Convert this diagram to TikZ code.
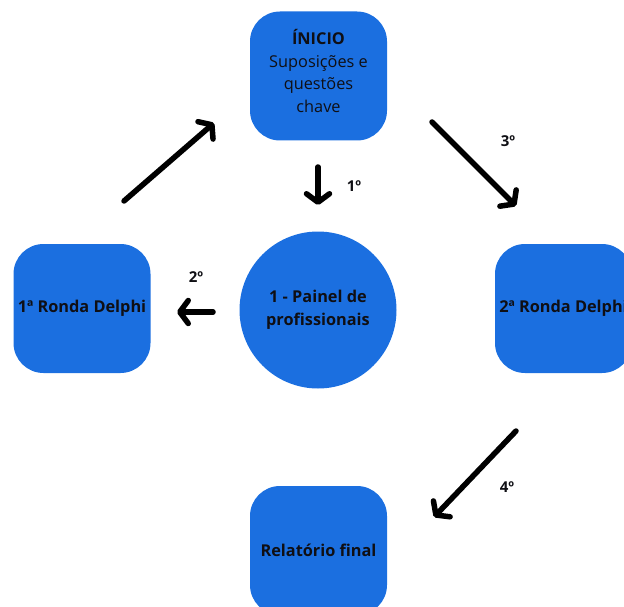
\documentclass[tikz,border=0pt]{standalone}
\usepackage{fontspec}
\setmainfont{Open Sans}
\usetikzlibrary{arrows.meta}
\definecolor{boxblue}{RGB}{27,111,224}
\definecolor{ink}{RGB}{15,15,20}
\tikzset{
  box/.style={fill=boxblue, draw=none, rounded corners=30pt, minimum width=137pt, minimum height=129pt, inner sep=0pt, align=center, text=ink, font=\fontsize{16.3}{22.7}\selectfont},
  txt/.style={inner sep=0pt, align=center, text=ink, font=\fontsize{16.3}{22.7}\selectfont},
  circ/.style={circle, fill=boxblue, draw=none, minimum size=157pt, inner sep=0pt, align=center, text=ink, font=\fontsize{16.3}{22.5}\selectfont\bfseries},
  lbl/.style={text=ink, font=\fontsize{15}{17}\selectfont\bfseries, inner sep=0pt},
  arr/.style={draw=black, line width=5.5pt, line cap=round, -{Straight Barb[length=8.5pt, width=23pt, round]}}
}
\begin{document}
\begin{tikzpicture}[x=1pt,y=-1pt]
\useasboundingbox (0,0) rectangle (624,607);
\clip (0,0) rectangle (624,607);
\node[box] (inicio) at (318.5,76) {};
\node[txt] (inicioT) at (318.5,71) {\textbf{ÍNICIO}\\Suposições e\\questões\\chave};
\node[box] (r1) at (82,308.5) {\bfseries 1ª Ronda Delphi};
\node[box] (r2) at (563.5,308.5) {\bfseries 2ª Ronda Delphi};
\node[box] (rel) at (318.5,550.5) {\bfseries Relatório final};
\node[circ] (painel) at (318,310) {1 - Painel de\\profissionais};
\coordinate (a0s) at (124,201); \coordinate (a0e) at (214,123);
\coordinate (a1s) at (318,167); \coordinate (a1e) at (318,205);
\coordinate (a2s) at (213,312); \coordinate (a2e) at (177,312);
\coordinate (a3s) at (432,122); \coordinate (a3e) at (516,206);
\coordinate (a4s) at (516,431); \coordinate (a4e) at (434,517);
\draw[arr] (a0s) -- (a0e);
\draw[arr] (a1s) -- (a1e);
\draw[arr] (a2s) -- (a2e);
\draw[arr] (a3s) -- (a3e);
\draw[arr] (a4s) -- (a4e);
\node[lbl] (l1) at (354,186) {1º};
\node[lbl] (l2) at (196,277) {2º};
\node[lbl] (l3) at (508,141) {3º};
\node[lbl] (l4) at (507,487) {4º};
\end{tikzpicture}
\end{document}
